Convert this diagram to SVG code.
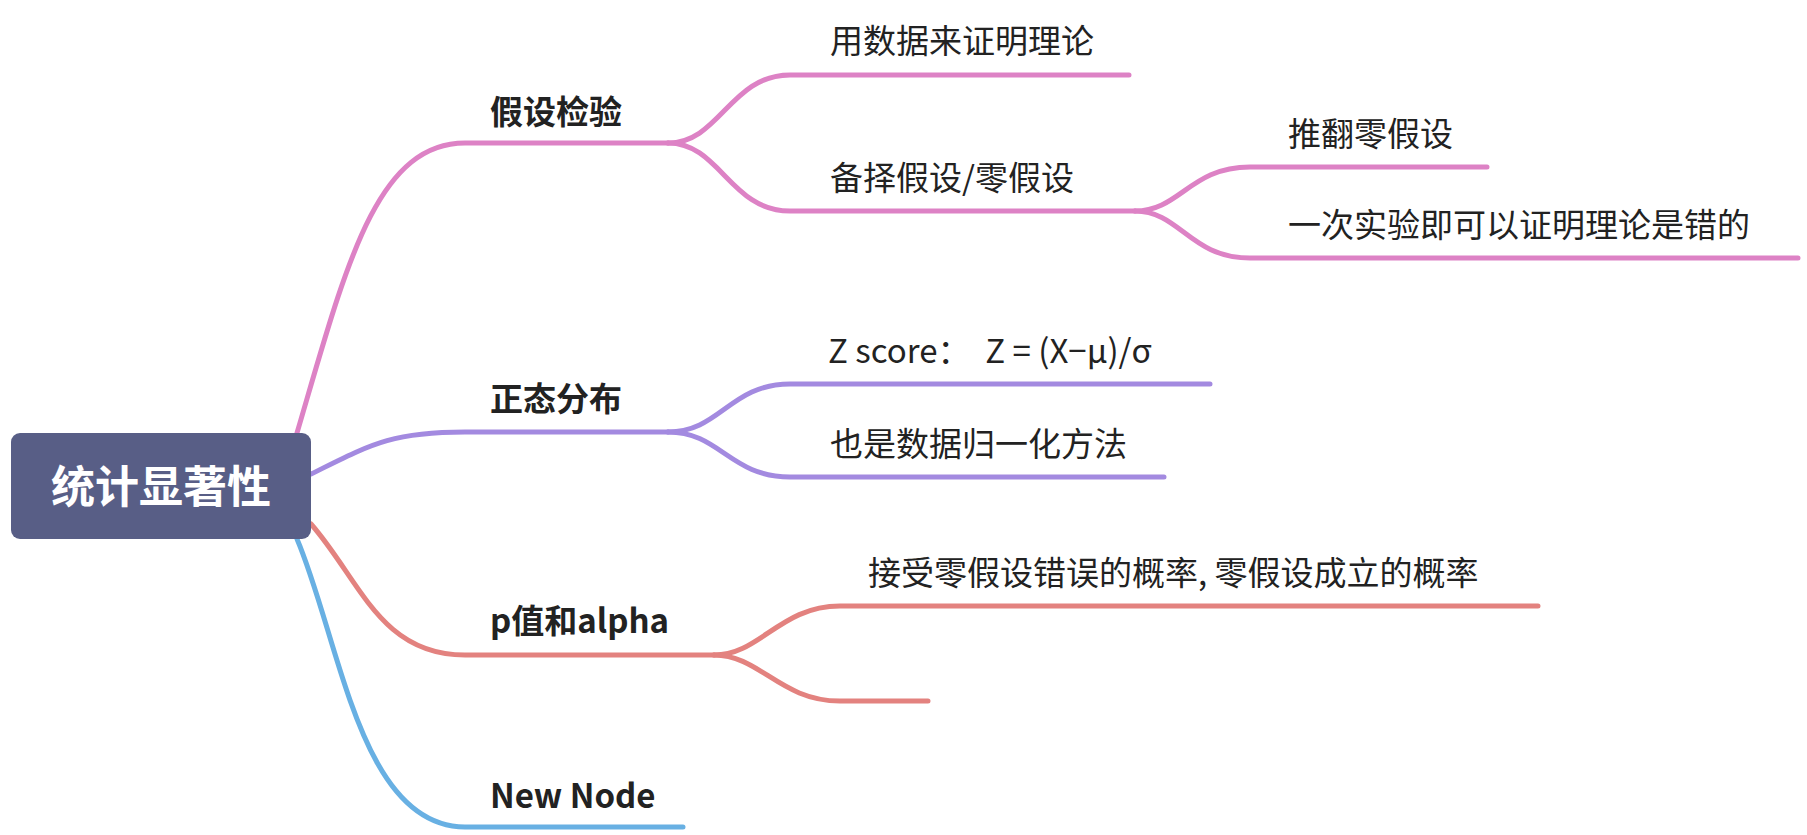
<svg xmlns="http://www.w3.org/2000/svg" width="1807" height="835" viewBox="0 0 1807 835">
<style>
.c{fill:none;stroke-width:5;stroke-linecap:round}
.pk{stroke:#dd82c5}.pu{stroke:#a38ae0}.rd{stroke:#e3827f}.bl{stroke:#68b0e3}
.t{font-family:"Noto Sans CJK SC","Noto Sans",sans-serif;font-size:33px;fill:#222}
.b{font-weight:bold;font-size:33px}
</style>
<rect width="1807" height="835" fill="#fff"/>
<g id="connectors">
<path class="c pk" d="M297 433 C345 270 375 143 465 143 L668 143"/>
<path class="c pk" d="M668 143 C720 143 730 75 790 75 L1129 75"/>
<path class="c pk" d="M668 143 C720 143 730 211 790 211 L1135 211"/>
<path class="c pk" d="M1135 211 C1180 211 1190 167 1250 167 L1487 167"/>
<path class="c pk" d="M1135 211 C1180 211 1190 258 1250 258 L1798 258"/>
<path class="c pu" d="M311 474 C370 445 390 432 465 432 L668 432"/>
<path class="c pu" d="M668 432 C720 432 730 384 790 384 L1210 384"/>
<path class="c pu" d="M668 432 C720 432 730 477 790 477 L1164 477"/>
<path class="c rd" d="M311 524 C360 580 380 655 465 655 L714 655"/>
<path class="c rd" d="M714 655 C760 655 780 606 840 606 L1538 606"/>
<path class="c rd" d="M714 655 C760 655 780 701 840 701 L928 701"/>
<path class="c bl" d="M297 539 C340 640 360 827 465 827 L683 827"/>
</g>
<g id="root"><rect x="11" y="433" width="300" height="106" rx="9" fill="#585e86"/>
<text x="161" y="503" text-anchor="middle" font-family="Noto Sans CJK SC,sans-serif" font-weight="bold" font-size="44" fill="#fff">统计显著性</text></g>
<g id="n1"><text class="t b" x="490" y="124">假设检验</text></g>
<g id="n11"><text class="t" x="830" y="53">用数据来证明理论</text></g>
<g id="n12"><text class="t" x="830" y="190">备择假设/零假设</text></g>
<g id="n121"><text class="t" x="1288" y="146">推翻零假设</text></g>
<g id="n122"><text class="t" x="1288" y="237">一次实验即可以证明理论是错的</text></g>
<g id="n2"><text class="t b" x="490" y="411">正态分布</text></g>
<g id="n21"><text class="t" x="828" y="363" xml:space="preserve" style="white-space:pre">Z score：  Z = (X−μ)/σ</text></g>
<g id="n22"><text class="t" x="830" y="456">也是数据归一化方法</text></g>
<g id="n3"><text class="t b" x="490" y="633">p值和alpha</text></g>
<g id="n31"><text class="t" x="868" y="585">接受零假设错误的概率, 零假设成立的概率</text></g>
<g id="n4"><text class="t b" x="490" y="808">New Node</text></g>
</svg>
